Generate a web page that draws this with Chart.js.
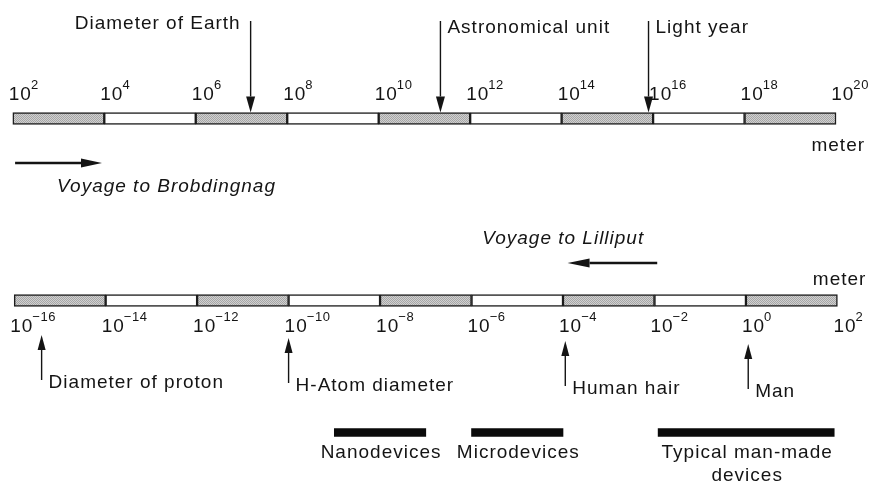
<!DOCTYPE html>
<html>
<head>
<meta charset="utf-8">
<script src="https://cdn.jsdelivr.net/npm/chart.js@4.4.1/dist/chart.umd.min.js"></script>
<style>
  html, body { margin: 0; padding: 0; background: #ffffff; }
  #wrap { width: 874px; height: 489px; }
</style>
</head>
<body>
<div id="wrap"><canvas id="c" width="874" height="489"></canvas></div>
<script>
// ---- Data (exponents of 10, in meters) ----
const topTicks = [2, 4, 6, 8, 10, 12, 14, 16, 18, 20];
const bottomTicks = [-16, -14, -12, -10, -8, -6, -4, -2, 0, 2];
const topMarkerLabels = ['Diameter of Earth', 'Astronomical unit', 'Light year'];
const topMarkerExps = [7.2, 11.35, 15.9];
const bottomMarkerLabels = ['Diameter of proton', 'H-Atom diameter', 'Human hair', 'Man'];
const bottomMarkerExps = [-15.4, -10, -3.95, 0.05];
const deviceLabels = [['Nanodevices'], ['Microdevices'], ['Typical man-made', 'devices']];
const deviceStart = [-9, -6, -1.92];
const deviceEnd = [-7, -4, 1.93];
const unitLabel = 'meter';
const topVoyageLabel = 'Voyage to Brobdingnag';
const bottomVoyageLabel = 'Voyage to Lilliput';
const topVoyageRange = [2.05, 3.95];
const bottomVoyageRange = [-1.94, -3.9];

// ---- Layout (vertical rows on a 0..489 layout scale) ----
const TOP_BAR_Y = 118.5, BOT_BAR_Y = 300.5, DEVICE_Y = 432.5;

// stipple pattern for grey segments
function stipple() {
  const p = document.createElement('canvas');
  p.width = 2; p.height = 2;
  const g = p.getContext('2d');
  g.fillStyle = '#d0d0d0'; g.fillRect(0, 0, 2, 2);
  g.fillStyle = '#a6a6a6'; g.fillRect(0, 0, 1, 1); g.fillRect(1, 1, 1, 1);
  return g.createPattern(p, 'repeat');
}
const grey = stipple();

function segments(ticks, y) {
  const data = [], colors = [];
  for (let i = 0; i < ticks.length - 1; i++) {
    data.push({ x: [ticks[i], ticks[i + 1]], y: y });
    colors.push(i % 2 === 0 ? grey : '#ffffff');
  }
  return { data, colors };
}
const topSeg = segments(topTicks, TOP_BAR_Y);
const botSeg = segments(bottomTicks, BOT_BAR_Y);

const FONT = '"Liberation Sans", Arial, Helvetica, sans-serif';
const INK = '#141414';

function arrow(ctx, x1, y1, x2, y2, headLen, headW, lw) {
  const ang = Math.atan2(y2 - y1, x2 - x1);
  const bx = x2 - Math.cos(ang) * headLen, by = y2 - Math.sin(ang) * headLen;
  ctx.save();
  ctx.strokeStyle = INK; ctx.fillStyle = INK; ctx.lineWidth = lw;
  ctx.beginPath(); ctx.moveTo(x1, y1); ctx.lineTo(bx, by); ctx.stroke();
  const nx = -Math.sin(ang) * headW / 2, ny = Math.cos(ang) * headW / 2;
  ctx.beginPath();
  ctx.moveTo(x2, y2); ctx.lineTo(bx + nx, by + ny); ctx.lineTo(bx - nx, by - ny);
  ctx.closePath(); ctx.fill();
  ctx.restore();
}

function expText(exp) { return exp < 0 ? '\u2212' + Math.abs(exp) : String(exp); }

function setSpacing(ctx, v) { try { ctx.letterSpacing = v; } catch (e) {} }

function powerLabel(ctx, x, baseline, exp) {
  ctx.save();
  ctx.fillStyle = INK;
  ctx.textAlign = 'left'; ctx.textBaseline = 'alphabetic';
  ctx.font = '19px ' + FONT;
  setSpacing(ctx, '1px');
  ctx.fillText('10', x, baseline);
  const w = ctx.measureText('10').width;
  ctx.font = '13px ' + FONT;
  setSpacing(ctx, '0.6px');
  ctx.fillText(expText(exp), x + w - 1, baseline - 11);
  ctx.restore();
}
function powerWidth(ctx, exp) {
  ctx.save();
  ctx.font = '19px ' + FONT;
  setSpacing(ctx, '1px');
  const w = ctx.measureText('10').width;
  ctx.font = '13px ' + FONT;
  setSpacing(ctx, '0.6px');
  const w2 = ctx.measureText(expText(exp)).width;
  ctx.restore();
  return w - 1 + w2;
}

function text(ctx, str, x, y, align, italic) {
  ctx.save();
  ctx.fillStyle = INK;
  ctx.font = (italic ? 'italic ' : '') + '19px ' + FONT;
  setSpacing(ctx, '1px');
  ctx.textAlign = align || 'left';
  ctx.textBaseline = 'alphabetic';
  ctx.fillText(str, x, y);
  ctx.restore();
}

const annotations = {
  id: 'annotations',
  afterDatasetsDraw(chart) {
    const ctx = chart.ctx;
    const xt = chart.scales.xTop, xb = chart.scales.xBot, y = chart.scales.y;
    const Y = v => y.getPixelForValue(v);

    // tick labels
    topTicks.forEach((t, i) => {
      let x = xt.getPixelForValue(t) - 4;
      if (i === topTicks.length - 1) x = Math.min(x, chart.width - 5 - powerWidth(ctx, t));
      powerLabel(ctx, x, Y(100), t);
    });
    bottomTicks.forEach((t, i) => {
      let x = xb.getPixelForValue(t) - 4;
      if (i === bottomTicks.length - 1) x = Math.min(x, chart.width - 10 - powerWidth(ctx, t));
      powerLabel(ctx, x, Y(332), t);
    });

    // unit labels
    text(ctx, unitLabel, xt.getPixelForValue(topTicks[topTicks.length - 1]) + 29, Y(150.5), 'right');
    text(ctx, unitLabel, xb.getPixelForValue(bottomTicks[bottomTicks.length - 1]) + 29, Y(285), 'right');

    // top markers (arrows pointing down)
    topMarkerExps.forEach((e, i) => {
      const x = xt.getPixelForValue(e);
      arrow(ctx, x, Y(21), x, Y(112.5), 16, 9, 1.4);
      if (i === 0) text(ctx, topMarkerLabels[i], x - 10, Y(29), 'right');
      else text(ctx, topMarkerLabels[i], x + 7, Y(32.5), 'left');
    });

    // bottom markers (arrows pointing up)
    const tipY = [335, 338, 341, 344];
    bottomMarkerExps.forEach((e, i) => {
      const x = xb.getPixelForValue(e);
      arrow(ctx, x, Y(tipY[i] + 45), x, Y(tipY[i]), 15, 8, 1.4);
      text(ctx, bottomMarkerLabels[i], x + 7, Y(tipY[i] + 53), 'left');
    });

    // voyage arrows + labels
    const ta = topVoyageRange.map(v => xt.getPixelForValue(v));
    arrow(ctx, ta[0], Y(163), ta[1], Y(163), 21, 9, 2.6);
    text(ctx, topVoyageLabel, ta[0] + 42, Y(192), 'left', true);
    const ba = bottomVoyageRange.map(v => xb.getPixelForValue(v));
    arrow(ctx, ba[0], Y(263), ba[1], Y(263), 22, 9, 2.6);
    text(ctx, bottomVoyageLabel, ba[0] - 175, Y(243.5), 'left', true);

    // device labels
    deviceLabels.forEach((lines, i) => {
      const cx = (xb.getPixelForValue(deviceStart[i]) + xb.getPixelForValue(deviceEnd[i])) / 2;
      lines.forEach((ln, k) => text(ctx, ln, cx + 1, Y(457.5 + k * 23), 'center'));
    });
  }
};

new Chart(document.getElementById('c'), {
  type: 'bar',
  data: {
    datasets: [
      {
        label: 'Large scale', data: topSeg.data, xAxisID: 'xTop', yAxisID: 'y',
        backgroundColor: topSeg.colors, borderColor: '#1c1c1c', borderWidth: 1.5,
        borderSkipped: false, barThickness: 12, grouped: false
      },
      {
        label: 'Small scale', data: botSeg.data, xAxisID: 'xBot', yAxisID: 'y',
        backgroundColor: botSeg.colors, borderColor: '#1c1c1c', borderWidth: 1.5,
        borderSkipped: false, barThickness: 12, grouped: false
      },
      {
        label: 'Devices',
        data: deviceStart.map((s, i) => ({ x: [s, deviceEnd[i]], y: DEVICE_Y })),
        xAxisID: 'xBot', yAxisID: 'y',
        backgroundColor: '#0a0a0a', borderWidth: 0, barThickness: 8, grouped: false
      }
    ]
  },
  options: {
    indexAxis: 'y',
    responsive: false,
    animation: false,
    events: [],
    layout: { padding: 0 },
    plugins: { legend: { display: false }, tooltip: { enabled: false } },
    scales: {
      xTop: { type: 'linear', axis: 'x', position: 'top', min: 1.72, max: 20.83, offset: false, display: false },
      xBot: { type: 'linear', axis: 'x', position: 'bottom', min: -16.31, max: 2.80, offset: false, display: false },
      y: { type: 'linear', min: 0, max: 489, reverse: true, offset: false, display: false }
    }
  },
  plugins: [annotations]
});
</script>
</body>
</html>
